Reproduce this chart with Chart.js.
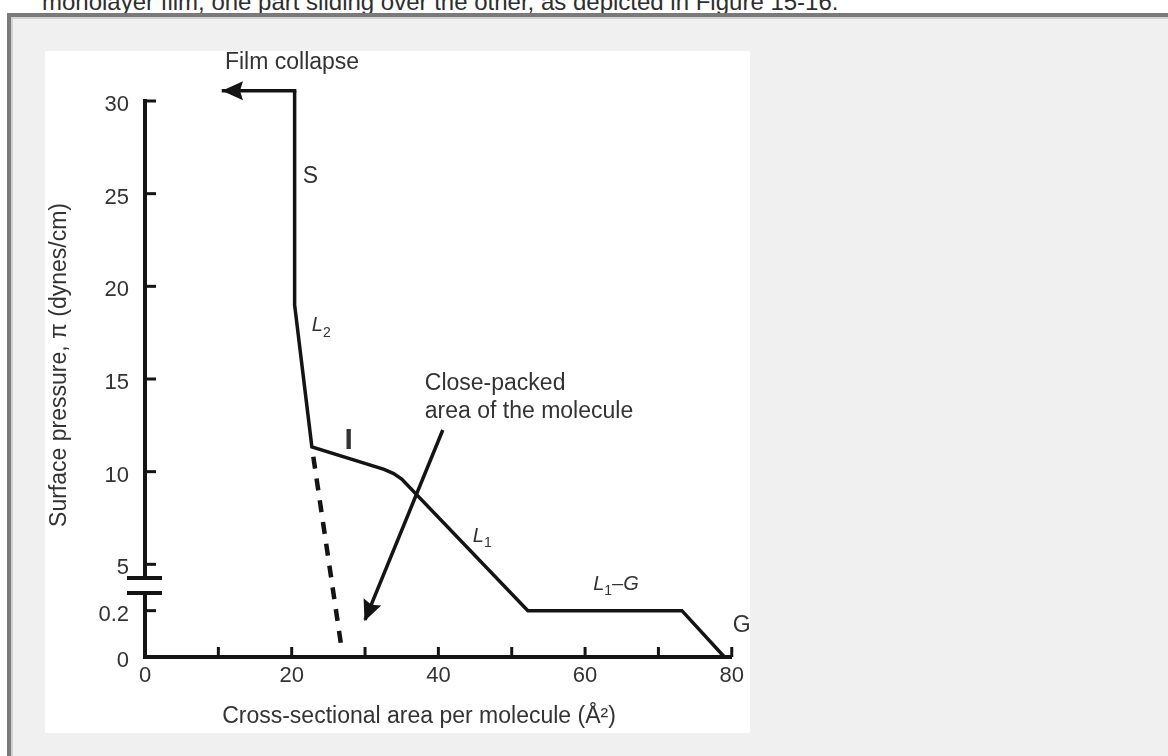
<!DOCTYPE html>
<html>
<head>
<meta charset="utf-8">
<script src="https://cdn.jsdelivr.net/npm/chart.js@4.4.1/dist/chart.umd.min.js"></script>
<style>
  html, body { margin: 0; padding: 0; background: #fff; width: 1168px; height: 756px; overflow: hidden; }
  #caption { position: absolute; left: 42px; top: -10px; font: 24px/24px "Liberation Sans", Arial, sans-serif; color: #2e2e2e; white-space: nowrap; }
  #frame { position: absolute; left: 7px; top: 13px; width: 1200px; height: 800px; border-left: 4px solid #7a7a7a; border-top: 4px solid #7a7a7a; background: #f0f0f0; box-shadow: inset 2px 2px 0 #d2d2d2; }
  #figure { position: absolute; left: 45px; top: 51px; width: 705px; height: 682px; background: #fff; }
</style>
</head>
<body>
<div id="caption">monolayer film, one part sliding over the other, as depicted in Figure 15-16.</div>
<div id="frame"></div>
<div id="figure"><canvas id="isotherm" width="705" height="682"></canvas></div>
<script>
// axis ticks
const areaTicks = [0, 10, 20, 30, 40, 50, 60, 70, 80];
const pressureTicks = [0, 0.2, 5, 10, 15, 20, 25, 30];

// isotherm: solid (S), L2, intermediate (I), L1, L1-G plateau, gas (G)
const isoArea = [20.4, 20.4, 22.75, 32.6, 33.9, 35.0, 52.2, 73.2, 79.0];
const isoPressure = [30.55, 19.0, 11.34, 10.12, 9.9, 9.6, 0.2, 0.2, 0];

// L2 extrapolated down to zero pressure (dashed)
const extrapArea = [22.75, 26.8];
const extrapPressure = [11.34, 0.038];

// arrows
const collapseArea = [20.4, 10.7];
const collapsePressure = [30.55, 30.55];
const packedArea = [40.6, 30.0];
const packedPressure = [12.25, 0.16];

const ink = '#141414';
const textColor = '#333';
const FONT = '"Liberation Sans", Arial, sans-serif';

// broken y axis: 0..0.2 is stretched, 5..30 is linear
function toAxis(p) {
    if (p <= 0.2) return p * 12.5;
    if (p >= 5) return p;
    return 2.5 + (p - 0.2) * 2.5 / 4.8;
}
function points(xs, ys) {
    return xs.map((x, i) => ({x: x, y: toAxis(ys[i])}));
}

const notes = [
    {x: 10.9, y: 32.05, parts: [['Film collapse', '23px', 0]]},
    {x: 21.5, y: 25.93, parts: [['S', '23px', 0]]},
    {x: 22.75, y: 17.87, parts: [['L', 'italic 20px', 0], ['2', '14px', 7]]},
    {x: 27.2, y: 11.66, parts: [['I', 'bold 30px', 0]]},
    {x: 38.15, y: 14.77, parts: [['Close-packed', '23px', 0]]},
    {x: 38.15, y: 13.24, parts: [['area of the molecule', '23px', 0]]},
    {x: 44.7, y: 6.53, parts: [['L', 'italic 20px', 0], ['1', '14px', 7]]},
    {x: 61.1, y: 3.94, parts: [['L', 'italic 20px', 0], ['1', '14px', 7], ['\u2013G', 'italic 20px', 0]]},
    {x: 80.15, y: 1.67, parts: [['G', '23px', 0]]}
];

const figurePlugin = {
    id: 'figureExtras',
    afterDraw(chart) {
        const ctx = chart.ctx;
        const xs = chart.scales.x, ys = chart.scales.y;
        const area = chart.chartArea;
        ctx.save();
        ctx.strokeStyle = ink;
        ctx.fillStyle = ink;
        ctx.lineWidth = 3;
        // inward tick marks
        xs.ticks.forEach(t => {
            if (t.value === 0) return;
            const px = xs.getPixelForValue(t.value);
            ctx.beginPath(); ctx.moveTo(px, area.bottom); ctx.lineTo(px, area.bottom - 10); ctx.stroke();
        });
        ys.ticks.forEach(t => {
            if (t.value === 0) return;
            const py = ys.getPixelForValue(t.value);
            ctx.beginPath(); ctx.moveTo(area.left, py); ctx.lineTo(area.left + 11, py); ctx.stroke();
        });
        // axis break
        const b1 = ys.getPixelForValue(4.26), b2 = ys.getPixelForValue(3.45);
        ctx.fillStyle = '#fff';
        ctx.fillRect(area.left - 4, b1, 8, b2 - b1);
        ctx.fillStyle = ink;
        ctx.lineWidth = 4;
        [b1, b2].forEach(py => {
            ctx.beginPath(); ctx.moveTo(area.left - 18, py); ctx.lineTo(area.left + 17, py); ctx.stroke();
        });
        // arrow heads
        chart.data.datasets.forEach((ds, i) => {
            if (!ds.arrowHead) return;
            const pts = chart.getDatasetMeta(i).data;
            const a = pts[pts.length - 2], b = pts[pts.length - 1];
            const ang = Math.atan2(b.y - a.y, b.x - a.x);
            const len = 21, half = 9.5;
            const tx = b.x + Math.cos(ang) * 1.5, ty = b.y + Math.sin(ang) * 1.5;
            ctx.save();
            ctx.translate(tx, ty);
            ctx.rotate(ang);
            ctx.beginPath();
            ctx.moveTo(0, 0);
            ctx.lineTo(-len, -half);
            ctx.lineTo(-len + 3, 0);
            ctx.lineTo(-len, half);
            ctx.closePath();
            ctx.fill();
            ctx.restore();
        });
        // labels
        ctx.fillStyle = textColor;
        ctx.textBaseline = 'middle';
        ctx.textAlign = 'left';
        notes.forEach(n => {
            let px = xs.getPixelForValue(n.x);
            const py = ys.getPixelForValue(n.y);
            n.parts.forEach(([txt, f, dy]) => {
                ctx.font = f + ' ' + FONT;
                ctx.fillText(txt, px, py + dy);
                px += ctx.measureText(txt).width;
            });
        });
        // axis titles
        ctx.font = '23px ' + FONT;
        ctx.textAlign = 'center';
        ctx.fillText('Cross-sectional area per molecule (\u00c5\u00b2)', area.left + 274, area.bottom + 60);
        ctx.save();
        ctx.translate(area.left - 85, (area.top + area.bottom) / 2 - 14);
        ctx.rotate(-Math.PI / 2);
        ctx.fillText('Surface pressure, \u03c0 (dynes/cm)', 0, 0);
        ctx.restore();
        ctx.restore();
    }
};

new Chart(document.getElementById('isotherm'), {
    type: 'line',
    data: {
        datasets: [{
            data: points(isoArea, isoPressure),
            borderWidth: 3.5
        }, {
            data: points(collapseArea, collapsePressure),
            borderWidth: 3.5,
            borderCapStyle: 'square',
            arrowHead: true
        }, {
            data: points(packedArea, packedPressure),
            borderWidth: 3.5,
            arrowHead: true
        }, {
            data: points(extrapArea, extrapPressure),
            borderWidth: 4.5,
            borderDash: [12, 10],
            borderDashOffset: 12
        }]
    },
    options: {
        responsive: false,
        animation: false,
        events: [],
        layout: {padding: {left: 0, top: 50, right: 18, bottom: 0}},
        elements: {
            line: {borderColor: ink, tension: 0, fill: false, borderJoinStyle: 'miter'},
            point: {radius: 0}
        },
        datasets: {line: {clip: false}},
        plugins: {legend: {display: false}, tooltip: {enabled: false}},
        scales: {
            x: {
                type: 'linear',
                min: 0,
                max: 80,
                afterBuildTicks: s => { s.ticks = areaTicks.map(v => ({value: v})); },
                afterFit: s => { s.height = 76; },
                grid: {display: false, drawTicks: false},
                border: {display: true, width: 4, color: ink},
                ticks: {
                    autoSkip: false,
                    maxRotation: 0,
                    padding: 6,
                    color: textColor,
                    font: {family: FONT, size: 22},
                    callback: v => (v % 20 === 0 ? v : '')
                }
            },
            y: {
                type: 'linear',
                min: 0,
                max: 30,
                afterBuildTicks: s => { s.ticks = pressureTicks.map(v => ({value: toAxis(v)})); },
                afterFit: s => { s.width = 100; },
                grid: {display: false, drawTicks: false},
                border: {display: true, width: 4, color: ink},
                ticks: {
                    autoSkip: false,
                    padding: 16,
                    labelOffset: 4,
                    color: textColor,
                    font: {family: FONT, size: 22},
                    callback: (v, i) => String(pressureTicks[i])
                }
            }
        }
    },
    plugins: [figurePlugin]
});
</script>
</body>
</html>
